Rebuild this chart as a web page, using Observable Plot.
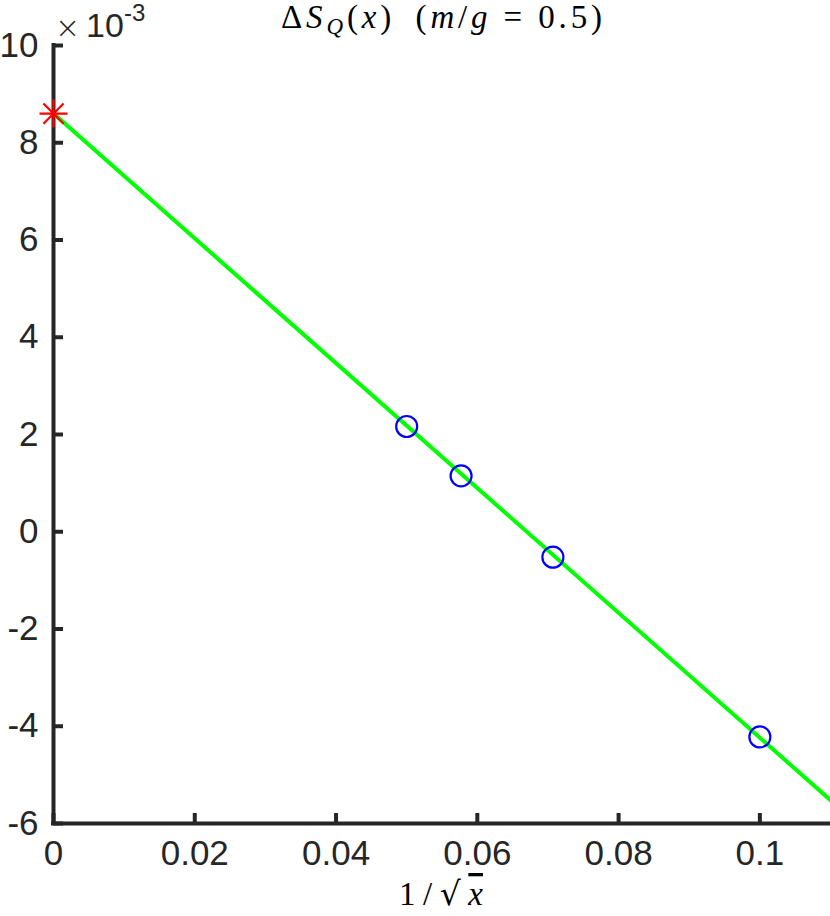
<!DOCTYPE html>
<html>
<head>
<meta charset="utf-8">
<script src="https://cdn.jsdelivr.net/npm/d3@7"></script>
<script src="https://cdn.jsdelivr.net/npm/@observablehq/plot@0.6"></script>
<style>
  html, body { margin: 0; padding: 0; background: #fff; }
  #chart svg { display: block; }
</style>
</head>
<body>
<div id="chart"></div>
<script>
// ---- data (y values in units of 10^-3) ----
const xTicks = [0, 0.02, 0.04, 0.06, 0.08, 0.1];
const yTicks = [-6, -4, -2, 0, 2, 4, 6, 8, 10];
const ptX = [0.05, 0.0577, 0.0707, 0.1];
const ptY = [2.165, 1.15, -0.523, -4.22];
const fitX = [0, 0.11];
const fitY = [8.60, -5.52];
const starX = [0];
const starY = [8.60];
const titleText = "ΔS_Q(x) (m/g = 0.5)";
const xLabelText = "1/√x";
const exponentText = "×10^-3";

const axisColor = "#262626";

const points = ptX.map((x, i) => ({x, y: ptY[i]}));
const fit = fitX.map((x, i) => ({x, y: fitY[i]}));
const star = starX.map((x, i) => ({x, y: starY[i]}));

const asterisk8 = {
  draw(ctx, size) {
    const r = Math.sqrt(size / Math.PI);
    const d = r * 0.72;
    ctx.moveTo(-r, 0); ctx.lineTo(r, 0);
    ctx.moveTo(0, -r); ctx.lineTo(0, r);
    ctx.moveTo(-d, -d); ctx.lineTo(d, d);
    ctx.moveTo(-d, d); ctx.lineTo(d, -d);
  }
};

const W = 830, H = 916;
const mL = 53, mR = 0, mT = 45, mB = 93;

const chart = Plot.plot({
  width: W,
  height: H,
  marginLeft: mL,
  marginRight: mR,
  marginTop: mT,
  marginBottom: mB,
  style: {fontFamily: "'Liberation Sans', Arial, Helvetica, sans-serif", color: axisColor, background: "#fff", overflow: "visible"},
  x: {domain: [0, 0.11]},
  y: {domain: [-6, 10]},
  marks: [
    // tick labels
    Plot.axisX({ticks: xTicks, tickSize: 0, tickPadding: 17, fontSize: 35, tickFormat: d => String(d), label: null, fill: axisColor}),
    Plot.axisY({ticks: yTicks, tickSize: 0, tickPadding: 15, fontSize: 35, tickFormat: d => String(d), label: null, fill: axisColor}),
    // inward ticks
    Plot.axisX({ticks: xTicks, tickSize: 10, dy: -10, fill: "none", stroke: axisColor, strokeWidth: 4, label: null}),
    Plot.axisY({ticks: yTicks, tickSize: 10, dx: 10, fill: "none", stroke: axisColor, strokeWidth: 4, label: null}),
    // axis lines
    Plot.ruleX([0], {stroke: axisColor, strokeWidth: 4, strokeLinecap: "square"}),
    Plot.ruleY([-6], {stroke: axisColor, strokeWidth: 4, strokeLinecap: "square"}),
    // fit line
    Plot.line(fit, {x: "x", y: "y", stroke: "#00ff00", strokeWidth: 4}),
    // data points
    Plot.dot(points, {x: "x", y: "y", r: 10.5, stroke: "#0000ff", strokeWidth: 2.2, fill: "none"}),
    // extrapolated value
    Plot.dot(star, {x: "x", y: "y", r: 14, symbol: asterisk8, stroke: "#ff0000", strokeWidth: 2.2, fill: "none"})
  ]
});

document.getElementById("chart").appendChild(chart);

const svg = d3.select(chart);
const serif = "'Liberation Serif', 'Times New Roman', serif";

// exponent label  ×10^-3
const expParts = exponentText.split("^");
const ex = svg.append("text")
  .attr("x", 55).attr("y", 38)
  .attr("text-anchor", "start")
  .attr("fill", axisColor)
  .attr("font-family", "'DejaVu Sans', sans-serif");
ex.append("tspan").attr("font-size", 30).attr("font-weight", 300).text(expParts[0].slice(0, 1));
ex.append("tspan").attr("x", 86).attr("y", 37).attr("font-family", "'Liberation Sans', Arial, sans-serif").attr("font-size", 34).text(expParts[0].slice(1));
ex.append("tspan").attr("x", 124).attr("y", 21).attr("font-family", "'Liberation Sans', Arial, sans-serif").attr("font-size", 24).text(expParts[1]);

// title  ΔS_Q(x) (m/g = 0.5)
const t = svg.append("text")
  .attr("x", 281).attr("y", 28)
  .attr("text-anchor", "start")
  .attr("fill", "#000")
  .attr("font-family", serif)
  .attr("font-size", 33)
  .attr("textLength", 321)
  .attr("lengthAdjust", "spacing");
t.append("tspan").text("Δ");
t.append("tspan").attr("font-style", "italic").text("S");
t.append("tspan").attr("font-style", "italic").attr("font-size", 23).attr("dy", 6).text("Q");
t.append("tspan").attr("dy", -6).text("(");
t.append("tspan").attr("font-style", "italic").text("x");
t.append("tspan").text(")\u2002(");
t.append("tspan").attr("font-style", "italic").text("m");
t.append("tspan").text("/");
t.append("tspan").attr("font-style", "italic").text("g");
t.append("tspan").text(" = 0.5)");

// x label  1/√x
const xl = svg.append("text")
  .attr("x", 399).attr("y", 905)
  .attr("text-anchor", "start")
  .attr("fill", "#000")
  .attr("font-family", serif)
  .attr("font-size", 33)
  .attr("textLength", 84)
  .attr("lengthAdjust", "spacing");
xl.append("tspan").text("1/");
xl.append("tspan").attr("font-family", "'DejaVu Serif', serif").text("√");
xl.append("tspan").attr("font-style", "italic").style("text-decoration", "overline").text("x");
</script>
</body>
</html>
